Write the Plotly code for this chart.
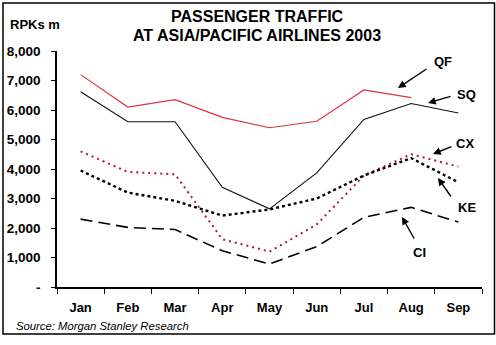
import plotly.graph_objects as go

months = ["Jan", "Feb", "Mar", "Apr", "May", "Jun", "Jul", "Aug", "Sep"]
qf = [7200, 6100, 6350, 5750, 5400, 5620, 6680, 6420, None]
sq = [6620, 5600, 5600, 3380, 2650, 3870, 5680, 6220, 5900]
cx = [4600, 3900, 3820, 1620, 1200, 2120, 3780, 4500, 4080]
ke = [3950, 3200, 2920, 2420, 2630, 3000, 3780, 4370, 3550]
ci = [2300, 2020, 1950, 1230, 780, 1370, 2360, 2700, 2200]
yticks = [0, 1000, 2000, 3000, 4000, 5000, 6000, 7000, 8000]
ytick_text = ["-", "1,000", "2,000", "3,000", "4,000", "5,000", "6,000", "7,000", "8,000"]

W, H = 496, 345
L, R, T, B = 57, 482, 51, 287
FONT = "Liberation Sans, Arial, sans-serif"

def px(x):
    return (x - L) / (R - L)

def py(y):
    return (B - y) / (B - T)

fig = go.Figure()
fig.add_trace(go.Scatter(x=months, y=qf, mode="lines", line=dict(color="#d8333f", width=1.1)))
fig.add_trace(go.Scatter(x=months, y=sq, mode="lines", line=dict(color="#111111", width=1.1)))
fig.add_trace(go.Scatter(x=months, y=cx, mode="lines", line=dict(color="#b3163a", width=2.0, dash="2px,4px")))
fig.add_trace(go.Scatter(x=months, y=ke, mode="lines", line=dict(color="#000000", width=2.4, dash="dot")))
fig.add_trace(go.Scatter(x=months, y=ci, mode="lines", line=dict(color="#000000", width=1.6, dash="12px,6px")))

annotations = [
    dict(x=px(257), y=py(17), text="<b>PASSENGER TRAFFIC</b>", font=dict(size=16)),
    dict(x=px(257), y=py(36), text="<b>AT ASIA/PACIFIC AIRLINES 2003</b>", font=dict(size=16)),
    dict(x=px(35), y=py(24), text="<b>RPKs m</b>", font=dict(size=13)),
    dict(x=px(14), y=py(326), text="<i>Source: Morgan Stanley Research</i>", font=dict(size=11.3), xanchor="left"),
    dict(x=px(443), y=py(61), text="<b>QF</b>", font=dict(size=13)),
    dict(x=px(466), y=py(94), text="<b>SQ</b>", font=dict(size=13)),
    dict(x=px(465), y=py(143), text="<b>CX</b>", font=dict(size=13)),
    dict(x=px(467), y=py(207), text="<b>KE</b>", font=dict(size=13)),
    dict(x=px(419), y=py(252), text="<b>CI</b>", font=dict(size=13)),
]
for a in annotations:
    a.update(xref="paper", yref="paper", showarrow=False)
    a.setdefault("xanchor", "center")
    a["yanchor"] = "middle"
    a["font"].update(family=FONT, color="#000000")

arrows = [((398, 88), (428, 68)), ((428, 103), (452, 96)), ((433, 154), (453, 146)),
          ((438, 178), (452, 198)), ((402, 217), (415, 240))]
for (hx, hy), (tx, ty) in arrows:
    annotations.append(dict(x=px(hx), y=py(hy), xref="paper", yref="paper", text="",
                            showarrow=True, ax=tx - hx, ay=ty - hy, arrowhead=2,
                            arrowsize=1.1, arrowwidth=1.4, arrowcolor="#000000", standoff=0))

fig.update_layout(
    width=W, height=H, margin=dict(l=L, r=W - R, t=T, b=H - B),
    paper_bgcolor="white", plot_bgcolor="white", showlegend=False,
    annotations=annotations,
    shapes=[dict(type="rect", xref="paper", yref="paper", x0=px(3), x1=px(494.5), y0=py(334), y1=py(3),
                 line=dict(color="#000000", width=1.5))],
    font=dict(family=FONT, color="#000000"),
)
fig.update_xaxes(type="category", categoryorder="array", categoryarray=months,
                 range=[-0.5, 8.5], showline=True, linecolor="#000000", linewidth=1.5,
                 ticks="outside", tickson="boundaries", ticklen=5, tickcolor="#000000",
                 showgrid=False, zeroline=False, ticklabelstandoff=8, automargin=False,
                 tickfont=dict(family=FONT, size=13, weight="bold"))
fig.update_yaxes(range=[0, 8000], tickvals=yticks, ticktext=ytick_text,
                 showline=True, linecolor="#000000", linewidth=1.5,
                 ticks="outside", ticklen=4, tickcolor="#000000",
                 showgrid=False, zeroline=False, ticklabelstandoff=8, automargin=False,
                 tickfont=dict(family=FONT, size=13.5, weight="bold"))

fig.write_html("out.html")
